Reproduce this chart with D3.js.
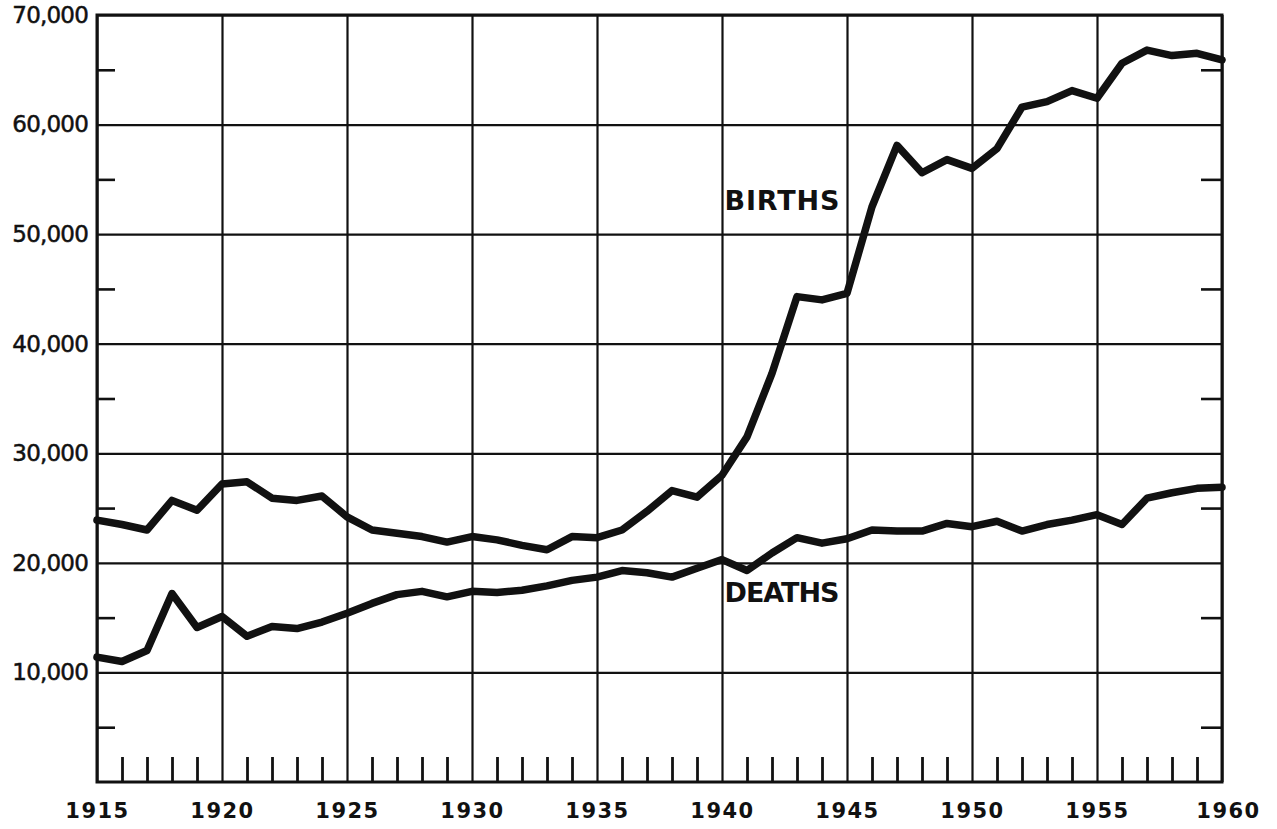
<!DOCTYPE html>
<html>
<head>
<meta charset="utf-8">
<script src="https://cdn.jsdelivr.net/npm/d3@7"></script>
<style>
  html, body { margin: 0; padding: 0; background: #fff; }
  svg { display: block; }
  text { font-family: "DejaVu Sans", sans-serif; fill: #111; }
</style>
</head>
<body>
<svg id="chart" width="1277" height="829"></svg>
<script>
const years = d3.range(1915, 1961);
const births = [
  23900, 23500, 23000, 25700, 24800, 27200, 27400, 25900, 25700, 26100,
  24200, 23000, 22700, 22400, 21900, 22400, 22100, 21600, 21200, 22400,
  22300, 23000, 24700, 26600, 26000, 28000, 31500, 37300, 44300, 44000,
  44600, 52500, 58100, 55600, 56800, 56000, 57800, 61600, 62100, 63100,
  62400, 65600, 66800, 66300, 66500, 65900
];
const deaths = [
  11400, 11000, 12000, 17200, 14100, 15100, 13300, 14200, 14000, 14600,
  15400, 16300, 17100, 17400, 16900, 17400, 17300, 17500, 17900, 18400,
  18700, 19300, 19100, 18700, 19500, 20300, 19300, 20900, 22300, 21800,
  22200, 23000, 22900, 22900, 23600, 23300, 23800, 22900, 23500, 23900,
  24400, 23500, 25900, 26400, 26800, 26900
];
const yearTicks = [1915, 1920, 1925, 1930, 1935, 1940, 1945, 1950, 1955, 1960];
const valueTicks = [10000, 20000, 30000, 40000, 50000, 60000, 70000];
const minorValueTicks = [5000, 15000, 25000, 35000, 45000, 55000, 65000];
const seriesLabels = [
  { name: "BIRTHS", year: 1940.1, value: 52200 },
  { name: "DEATHS", year: 1940.1, value: 16400 }
];

const svg = d3.select("#chart");
const mLeft = 97, mRight = 1222, mTop = 15, mBottom = 782;

const x = d3.scaleLinear().domain([1915, 1960]).range([mLeft, mRight]);
const y = d3.scaleLinear().domain([0, 70000]).range([mBottom, mTop]);

const ink = "#111";

// vertical grid at every 5 years
svg.append("g")
  .attr("transform", `translate(0,${mBottom})`)
  .call(d3.axisBottom(x).tickValues(yearTicks).tickSize(-(mBottom - mTop)).tickFormat(""))
  .call(g => g.select(".domain").remove())
  .call(g => g.selectAll("line").attr("stroke", ink).attr("stroke-width", 2.2));

// horizontal grid at every 10,000
svg.append("g")
  .attr("transform", `translate(${mLeft},0)`)
  .call(d3.axisLeft(y).tickValues(valueTicks).tickSize(-(mRight - mLeft)).tickFormat(""))
  .call(g => g.select(".domain").remove())
  .call(g => g.selectAll("line").attr("stroke", ink).attr("stroke-width", 2.2));

// minor year ticks along bottom (inside)
svg.append("g")
  .attr("transform", `translate(0,${mBottom})`)
  .call(d3.axisBottom(x).tickValues(years.filter(v => v % 5 !== 0)).tickSize(-25).tickFormat(""))
  .call(g => g.select(".domain").remove())
  .call(g => g.selectAll("line").attr("stroke", ink).attr("stroke-width", 2.8));

// minor value ticks on left and right (inside)
svg.append("g")
  .attr("transform", `translate(${mLeft},0)`)
  .call(d3.axisLeft(y).tickValues(minorValueTicks).tickSize(-18).tickFormat(""))
  .call(g => g.select(".domain").remove())
  .call(g => g.selectAll("line").attr("stroke", ink).attr("stroke-width", 2.6));
svg.append("g")
  .attr("transform", `translate(${mRight},0)`)
  .call(d3.axisRight(y).tickValues(minorValueTicks).tickSize(-21).tickFormat(""))
  .call(g => g.select(".domain").remove())
  .call(g => g.selectAll("line").attr("stroke", ink).attr("stroke-width", 2.6));

// frame
svg.append("rect")
  .attr("x", mLeft).attr("y", mTop)
  .attr("width", mRight - mLeft).attr("height", mBottom - mTop)
  .attr("fill", "none").attr("stroke", ink).attr("stroke-width", 3);

// y labels
svg.append("g")
  .attr("transform", `translate(${mLeft},0)`)
  .call(d3.axisLeft(y).tickValues(valueTicks).tickSize(0).tickPadding(9)
    .tickFormat(d3.format(",")))
  .call(g => g.select(".domain").remove())
  .call(g => g.selectAll("text")
    .style("font-family", "'DejaVu Sans', sans-serif")
    .style("font-size", "23px")
    .attr("fill", ink)
    .attr("stroke", ink)
    .attr("stroke-width", 0.5)
    .attr("letter-spacing", "-0.8"));

// x labels
svg.append("g")
  .attr("transform", `translate(0,${mBottom})`)
  .call(d3.axisBottom(x).tickValues(yearTicks).tickSize(0).tickPadding(21)
    .tickFormat(d3.format("d")))
  .call(g => g.select(".domain").remove())
  .call(g => g.selectAll("text")
    .style("font-family", "'DejaVu Sans', sans-serif")
    .style("font-size", "21px")
    .style("font-weight", "600")
    .attr("fill", ink)
    .attr("letter-spacing", "1.5")
    .attr("dx", d => d === 1960 ? 6 : 0));

// lines
const line = d3.line()
  .x((d, i) => x(years[i]))
  .y(d => y(d));

[births, deaths].forEach(series => {
  svg.append("path")
    .datum(series)
    .attr("d", line)
    .attr("fill", "none")
    .attr("stroke", ink)
    .attr("stroke-width", 7.5)
    .attr("stroke-linejoin", "round")
    .attr("stroke-linecap", "round");
});

// series labels
svg.selectAll("text.series")
  .data(seriesLabels)
  .join("text")
  .attr("class", "series")
  .attr("x", d => x(d.year))
  .attr("y", d => y(d.value))
  .attr("fill", ink)
  .style("font-family", "'DejaVu Sans', sans-serif")
  .style("font-size", "27px")
  .style("font-weight", "bold")
  .attr("letter-spacing", "1")
  .attr("textLength", 116)
  .text(d => d.name);
</script>
</body>
</html>
